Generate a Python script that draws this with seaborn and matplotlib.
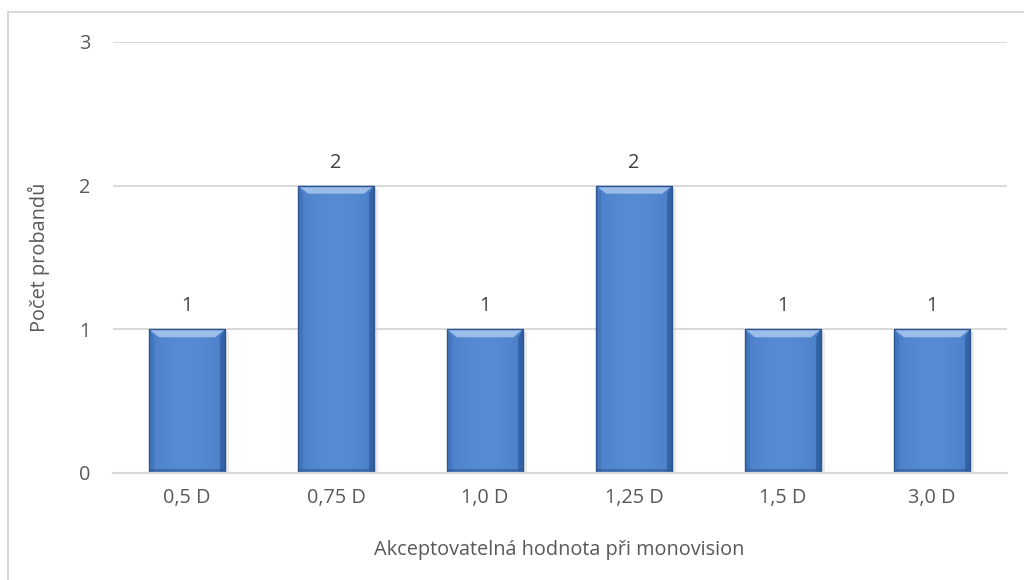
import numpy as np
import pandas as pd
import matplotlib
matplotlib.use("Agg")
import matplotlib.pyplot as plt
from matplotlib.patches import Rectangle, Polygon
import seaborn as sns

# Data
kategorie = ["0,5 D", "0,75 D", "1,0 D", "1,25 D", "1,5 D", "3,0 D"]
pocty = [1, 2, 1, 2, 1, 1]
y_ticks = [0, 1, 2, 3]

df = pd.DataFrame({"hodnota": kategorie, "pocet": pocty})

sns.set_theme(style="white")
plt.rcParams["font.family"] = ["Open Sans", "DejaVu Sans"]

TEXT = "#595959"
GRID = "#d9d9d9"
BAR = "#4a7fc9"
FS = 14.3

fig = plt.figure(figsize=(10.24, 5.8), dpi=100)
ax = fig.add_axes([0.110, 0.1845, 0.873, 0.7431])

sns.barplot(data=df, x="hodnota", y="pocet", color=BAR, width=0.51,
            saturation=1, ax=ax, zorder=3, edgecolor="none")

ax.set_ylim(0, 3)
ax.set_yticks(y_ticks)
ax.set_yticklabels([str(t) for t in y_ticks])
ax.set_xlim(-0.5, len(kategorie) - 0.5)

for y in y_ticks[1:]:
    ax.axhline(y, color=GRID, lw=1.4, zorder=1)
for s in ["top", "right", "left"]:
    ax.spines[s].set_visible(False)
ax.spines["bottom"].set_color(GRID)
ax.spines["bottom"].set_linewidth(1.6)
ax.spines["bottom"].set_zorder(4)

ax.tick_params(axis="both", length=0, labelsize=FS, colors=TEXT, pad=11)
ax.tick_params(axis="y", pad=16)
ax.set_xlabel("Akceptovatelná hodnota při monovision", fontsize=FS,
              color=TEXT, labelpad=23)
ax.set_ylabel("Počet probandů", fontsize=FS, color=TEXT, labelpad=21)

fig.canvas.draw()
# pixel to data scale factors for bevel sizes
inv = ax.transData.inverted()
(x_a, y_a), (x_b, y_b) = inv.transform([(0, 0), (1, 1)])
px_x = x_b - x_a
px_y = y_b - y_a

cmap = matplotlib.colors.LinearSegmentedColormap.from_list(
    "bar", ["#2f5b99", "#4a7fc9", "#5a8fd6"])

for p, val in zip(ax.patches, pocty):
    x0, y0 = p.get_x(), p.get_y()
    w, h = p.get_width(), p.get_height()
    # soft shadow on the right
    ax.add_patch(Rectangle((x0 + w, y0), 4 * px_x, h - 3 * px_y,
                           facecolor="#c8c8c8", alpha=0.35, lw=0, zorder=2))
    # horizontal shading across bar face
    xs = np.linspace(0, 1, 60)
    shade = np.clip(0.55 + 0.35 * np.sin(np.pi * xs) - 0.25 * (xs > 0.9) * (xs - 0.9) * 10, 0, 1)
    img = ax.imshow(shade[np.newaxis, :], cmap=cmap, vmin=0, vmax=1,
                    extent=(x0, x0 + w, y0, y0 + h), aspect="auto",
                    zorder=3.1, interpolation="bilinear")
    img.set_clip_path(p)
    # dark outline
    ax.add_patch(Rectangle((x0, y0), w, h, facecolor="none",
                           edgecolor="#2c5590", lw=1.0, zorder=3.3))
    # top bevel
    bx, by = 10 * px_x, 8 * px_y
    top = y0 + h
    ax.add_patch(Polygon([(x0, top), (x0 + w, top), (x0 + w - bx, top - by),
                          (x0 + bx, top - by)], closed=True,
                         facecolor="#9bbde9", edgecolor="none", zorder=3.2))
    # side bevels
    ax.add_patch(Polygon([(x0, top), (x0 + bx * 0.5, top - by), (x0 + bx * 0.5, y0),
                          (x0, y0)], closed=True, facecolor="#3d6db3",
                         alpha=0.6, edgecolor="none", zorder=3.2))
    ax.add_patch(Polygon([(x0 + w, top), (x0 + w - bx * 0.5, top - by),
                          (x0 + w - bx * 0.5, y0), (x0 + w, y0)], closed=True,
                         facecolor="#2d5a9c", alpha=0.7, edgecolor="none", zorder=3.2))
    # bottom bevel
    ax.add_patch(Rectangle((x0, y0), w, 4 * px_y, facecolor="#2f5b99",
                           alpha=0.6, lw=0, zorder=3.2))
    ax.text(x0 + w / 2, top + 13 * px_y, str(val), ha="center", va="bottom",
            fontsize=FS, color="#404040", zorder=5)

# outer frame of the chart area
fig.patches.append(Rectangle((8 / 1024, -0.1), 1.2, 1.1 - 12 / 580,
                             transform=fig.transFigure, fill=False,
                             edgecolor="#d9d9d9", lw=1.5))

fig.savefig("out.png", dpi=100)
